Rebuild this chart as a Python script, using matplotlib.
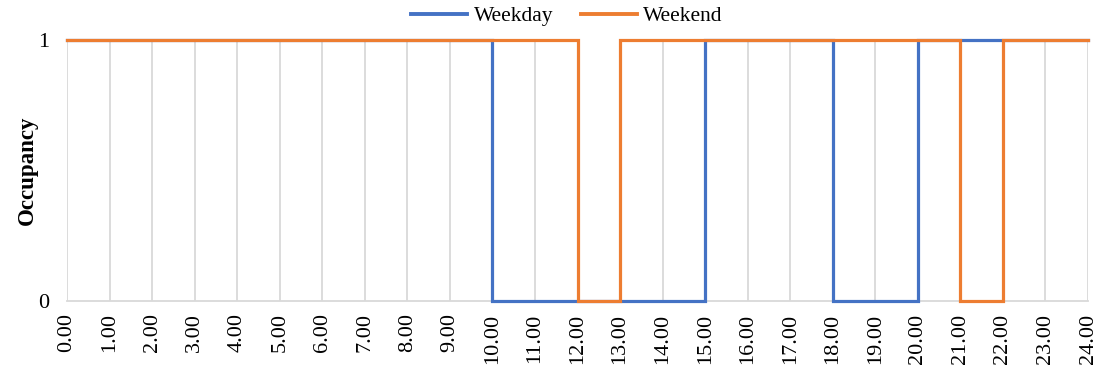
import matplotlib
matplotlib.use("Agg")
import matplotlib.pyplot as plt
from matplotlib.lines import Line2D

hours = list(range(25))
tick_labels = [f"{h}.00" for h in hours]

# occupancy state at the start of each hour (step held until the next hour)
weekday = [1]*10 + [0]*5 + [1]*3 + [0]*2 + [1]*4 + [1]
weekend = [1]*12 + [0]*1 + [1]*8 + [0]*1 + [1]*2 + [1]

blue = "#4472C4"
orange = "#ED7D31"

plt.rcParams['font.family'] = ['Liberation Serif', 'DejaVu Serif']

fig = plt.figure(figsize=(11.04, 3.71), dpi=100)
ax = fig.add_axes([67/1104, 70/371, (1088-67)/1104, (301-40)/371])

ax.plot(hours, weekday, drawstyle='steps-post', color=blue, lw=2.3,
        solid_joinstyle='miter', zorder=3, clip_on=False)
ax.plot(hours, weekend, drawstyle='steps-post', color=orange, lw=2.3,
        solid_joinstyle='miter', zorder=4, clip_on=False)

ax.set_xlim(0, 24)
ax.set_ylim(0, 1)
ax.set_xticks(hours)
ax.set_xticklabels(tick_labels, rotation=90, fontsize=16)
ax.set_yticks([0, 1])
ax.set_yticklabels(["0", "1"], fontsize=16)
ax.tick_params(axis='x', length=0, pad=9)
ax.tick_params(axis='y', length=0, pad=13)

ax.grid(axis='x', color='#d9d9d9', lw=1.3, zorder=0)
ax.set_axisbelow(True)
for side in ['top', 'right', 'left']:
    ax.spines[side].set_visible(False)
ax.spines['bottom'].set_color('#d9d9d9')
ax.spines['bottom'].set_linewidth(1.3)

ax.set_ylabel("Occupancy", fontsize=16.5, fontweight='bold', labelpad=0)

handles = [Line2D([], [], color=blue, lw=2.8),
           Line2D([], [], color=orange, lw=2.8)]
fig.legend(handles, ["Weekday", "Weekend"], loc='center',
           bbox_to_anchor=(567/1104, 1 - 16/371), ncol=2, frameon=False,
           fontsize=15.5, handlelength=2.6, handletextpad=0.3, columnspacing=1.3,
           borderpad=0)

fig.savefig("out.png", dpi=100)
